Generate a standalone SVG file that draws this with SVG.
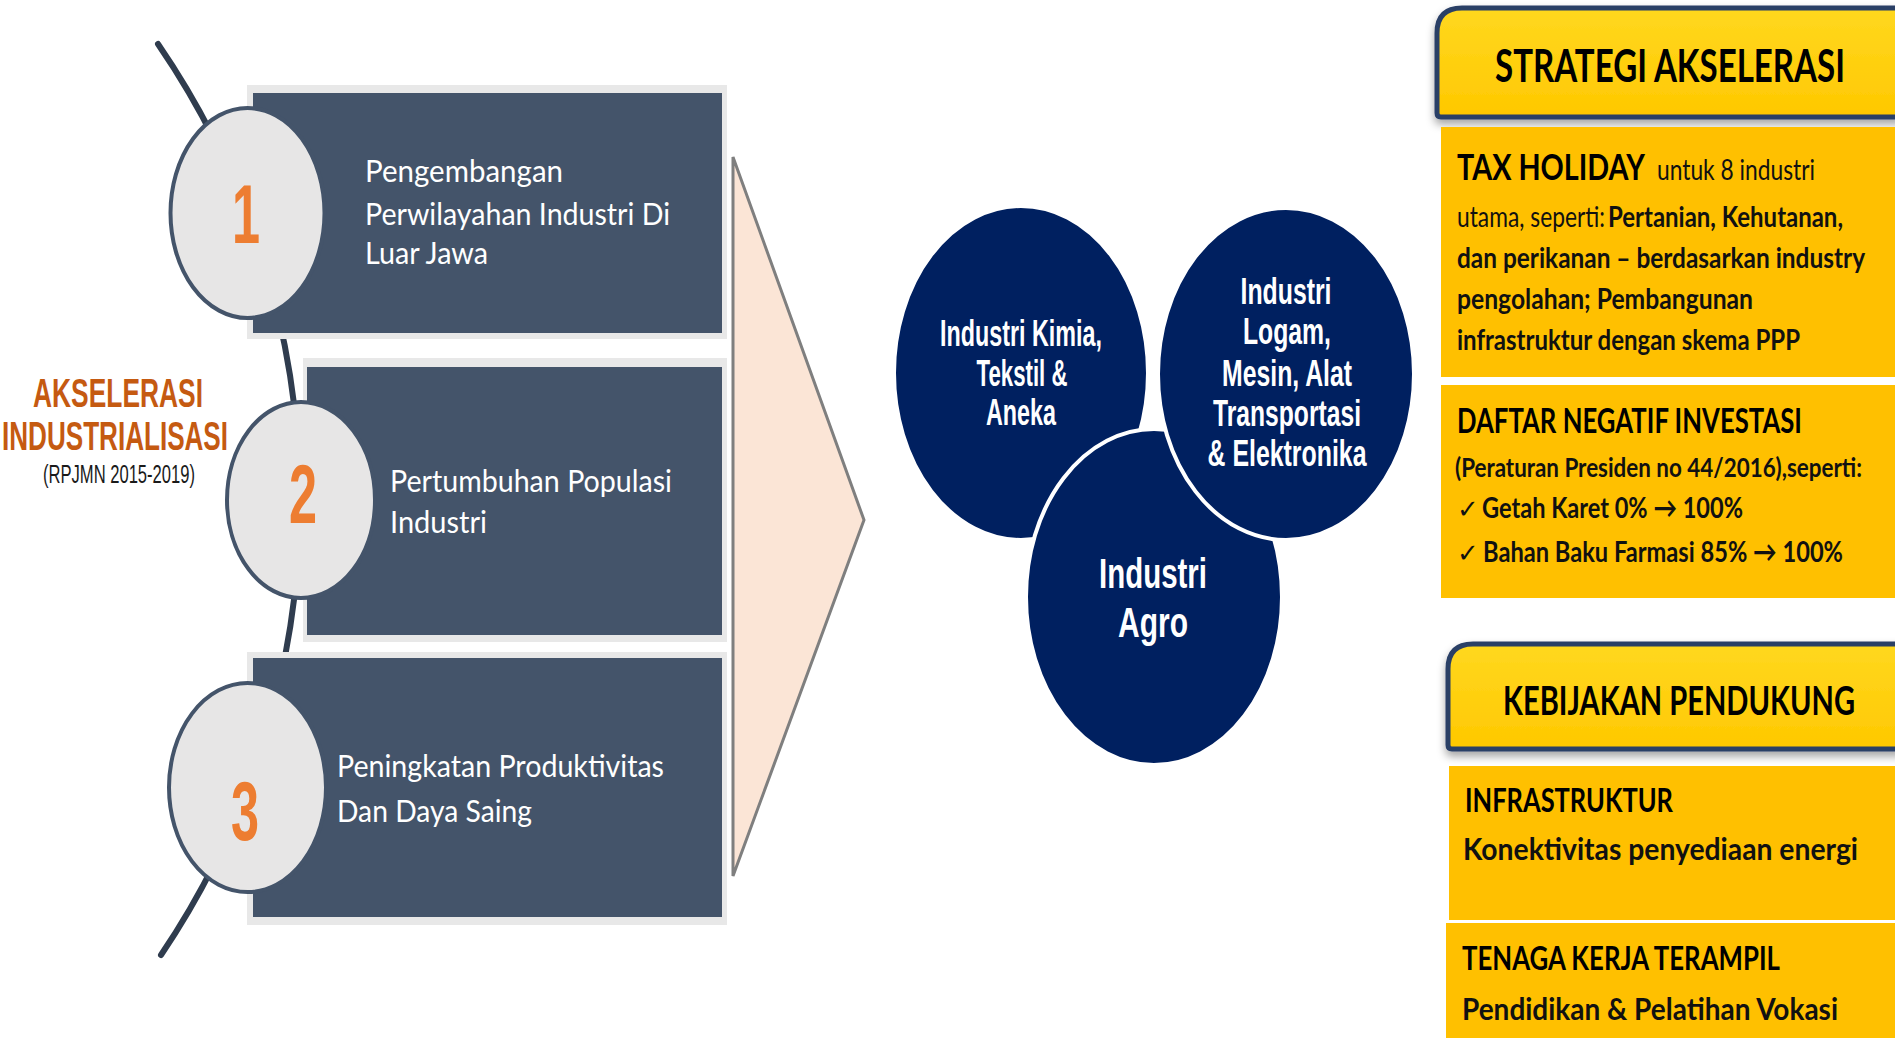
<svg xmlns="http://www.w3.org/2000/svg" width="1895" height="1038" viewBox="0 0 1895 1038">
<style>
.frame{fill:#e8e8e8}
.box{fill:#44546a}
.num{fill:#e7e6e6;stroke:#44546a;stroke-width:4}
.digit{font-family:"Liberation Sans",Arial,sans-serif;font-weight:bold;font-size:84px;fill:#ed7d31;text-anchor:middle}
.bt{font-family:Lato,"Liberation Sans",sans-serif;font-size:31px;fill:#ffffff}
.lbl{font-family:"Liberation Sans",Arial,sans-serif;font-weight:bold;font-size:40px;fill:#c55a11}
.sub{font-family:"Liberation Sans",Arial,sans-serif;font-size:26px;fill:#1a1a1a}
.ind{fill:#002060;stroke:#ffffff;stroke-width:4}
.ct{font-family:"Liberation Sans",Arial,sans-serif;font-weight:bold;font-size:36px;fill:#ffffff;text-anchor:middle}
.ctl{font-family:"Liberation Sans",Arial,sans-serif;font-weight:bold;font-size:43px;fill:#ffffff;text-anchor:middle}
.hdr{fill:url(#hg);stroke:#2b3f66;stroke-width:5;filter:url(#sh)}
.ybox{fill:#ffc000}
.h{font-family:Lato,"Liberation Sans",sans-serif;font-weight:bold;fill:#000000}
.r{font-family:Lato,"Liberation Sans","DejaVu Sans",sans-serif;fill:#111111}
.arc{fill:none;stroke:#2f3c4e;stroke-width:6;stroke-linecap:round}
</style>
<defs>
<linearGradient id="hg" x1="0" y1="0" x2="0" y2="1">
<stop offset="0" stop-color="#ffd81f"/>
<stop offset="1" stop-color="#ffc800"/>
</linearGradient>
<filter id="sh" x="-5%" y="-10%" width="110%" height="130%">
<feDropShadow dx="0" dy="5" stdDeviation="4" flood-color="#000000" flood-opacity="0.35"/>
</filter>
</defs>
<rect width="1895" height="1038" fill="#ffffff"/>

<g id="connectors">
<path class="arc" d="M158,44 A809,809 0 0 1 161,955"/>
</g>

<g id="chevron">
<polygon points="733,157 864,520 733,876" fill="#fbe5d6" stroke="#7f7f7f" stroke-width="3"/>
</g>

<g id="step1">
<rect class="frame" x="247" y="85" width="480" height="254"/>
<rect class="box" x="253" y="93" width="469" height="240"/>
<ellipse class="num" cx="247.5" cy="213" rx="77" ry="105"/>
<text class="digit" transform="translate(246,243) scale(0.6,1)" x="0" y="0">1</text>
<text class="bt" x="365" y="182" textLength="198" lengthAdjust="spacingAndGlyphs">Pengembangan</text>
<text class="bt" x="365" y="225" textLength="305" lengthAdjust="spacingAndGlyphs">Perwilayahan Industri Di</text>
<text class="bt" x="365" y="264" textLength="123" lengthAdjust="spacingAndGlyphs">Luar Jawa</text>
</g>

<g id="step2">
<rect class="frame" x="303" y="358" width="424" height="284"/>
<rect class="box" x="307" y="367" width="415" height="268"/>
<ellipse class="num" cx="301" cy="500" rx="74" ry="98"/>
<text class="digit" transform="translate(303,523) scale(0.6,1)" x="0" y="0">2</text>
<text class="bt" x="390" y="492" textLength="282" lengthAdjust="spacingAndGlyphs">Pertumbuhan Populasi</text>
<text class="bt" x="390" y="533" textLength="97" lengthAdjust="spacingAndGlyphs">Industri</text>
</g>

<g id="step3">
<rect class="frame" x="247" y="652" width="480" height="273"/>
<rect class="box" x="253" y="658" width="469" height="259"/>
<ellipse class="num" cx="247.5" cy="787.5" rx="78.5" ry="104.5"/>
<text class="digit" transform="translate(245,840) scale(0.6,1)" x="0" y="0">3</text>
<text class="bt" x="337" y="777" textLength="327" lengthAdjust="spacingAndGlyphs">Peningkatan Produktivitas</text>
<text class="bt" x="337" y="822" textLength="195" lengthAdjust="spacingAndGlyphs">Dan Daya Saing</text>
</g>

<g id="title-left">
<text class="lbl" x="33" y="407" textLength="170" lengthAdjust="spacingAndGlyphs">AKSELERASI</text>
<text class="lbl" x="2" y="450" textLength="226" lengthAdjust="spacingAndGlyphs">INDUSTRIALISASI</text>
<text class="sub" x="43" y="483" textLength="152" lengthAdjust="spacingAndGlyphs">(RPJMN 2015-2019)</text>
</g>

<g id="ind-kimia">
<ellipse class="ind" cx="1021" cy="373" rx="127" ry="167"/>
<text class="ct" x="1021" y="346" textLength="162" lengthAdjust="spacingAndGlyphs">Industri Kimia,</text>
<text class="ct" x="1022" y="386" textLength="91" lengthAdjust="spacingAndGlyphs">Tekstil &amp;</text>
<text class="ct" x="1021" y="425" textLength="70" lengthAdjust="spacingAndGlyphs">Aneka</text>
</g>

<g id="ind-agro">
<ellipse class="ind" cx="1154" cy="597" rx="128" ry="168"/>
<text class="ctl" x="1153" y="588" textLength="108" lengthAdjust="spacingAndGlyphs">Industri</text>
<text class="ctl" x="1153" y="637" textLength="70" lengthAdjust="spacingAndGlyphs">Agro</text>
</g>

<g id="ind-logam">
<ellipse class="ind" cx="1286" cy="374" rx="128" ry="166"/>
<text class="ct" x="1286" y="304" textLength="91" lengthAdjust="spacingAndGlyphs">Industri</text>
<text class="ct" x="1287" y="344" textLength="88" lengthAdjust="spacingAndGlyphs">Logam,</text>
<text class="ct" x="1287" y="386" textLength="130" lengthAdjust="spacingAndGlyphs">Mesin, Alat</text>
<text class="ct" x="1287" y="426" textLength="148" lengthAdjust="spacingAndGlyphs">Transportasi</text>
<text class="ct" x="1287" y="466" textLength="159" lengthAdjust="spacingAndGlyphs">&amp; Elektronika</text>
</g>

<g id="strategi-header">
<path class="hdr" d="M1900,8 H1462 Q1437,8 1437,33 V113 Q1437,117 1441,117 H1900 Z"/>
<text class="h" x="1495" y="82" font-size="46" textLength="350" lengthAdjust="spacingAndGlyphs">STRATEGI AKSELERASI</text>
</g>

<g id="tax-holiday">
<rect class="ybox" x="1441" y="127" width="454" height="250"/>
<text class="h" x="1457" y="180" font-size="36" textLength="188" lengthAdjust="spacingAndGlyphs">TAX HOLIDAY</text>
<text class="r" x="1657" y="180" font-size="28" textLength="158" lengthAdjust="spacingAndGlyphs">untuk 8 industri</text>
<text class="r" x="1457" y="227" font-size="28" textLength="148" lengthAdjust="spacingAndGlyphs">utama, seperti:</text>
<text class="r" x="1608" y="227" font-size="29" font-weight="bold" textLength="235" lengthAdjust="spacingAndGlyphs">Pertanian, Kehutanan,</text>
<text class="r" x="1457" y="268" font-size="29" font-weight="bold" textLength="408" lengthAdjust="spacingAndGlyphs">dan perikanan – berdasarkan industry</text>
<text class="r" x="1457" y="309" font-size="29" font-weight="bold" textLength="296" lengthAdjust="spacingAndGlyphs">pengolahan; Pembangunan</text>
<text class="r" x="1457" y="350" font-size="29" font-weight="bold" textLength="343" lengthAdjust="spacingAndGlyphs">infrastruktur dengan skema PPP</text>
</g>

<g id="daftar-negatif">
<rect class="ybox" x="1441" y="385" width="454" height="213"/>
<text class="h" x="1457" y="433" font-size="34" textLength="345" lengthAdjust="spacingAndGlyphs">DAFTAR NEGATIF INVESTASI</text>
<text class="r" x="1455" y="477" font-size="26" font-weight="bold" textLength="407" lengthAdjust="spacingAndGlyphs">(Peraturan Presiden no 44/2016),seperti:</text>
<text class="r" x="1457" y="518" font-size="26">✓</text>
<text class="r" x="1482" y="518" font-size="29" font-weight="bold" textLength="261" lengthAdjust="spacingAndGlyphs">Getah Karet 0% → 100%</text>
<text class="r" x="1457" y="562" font-size="26">✓</text>
<text class="r" x="1483" y="562" font-size="29" font-weight="bold" textLength="360" lengthAdjust="spacingAndGlyphs">Bahan Baku Farmasi 85% → 100%</text>
</g>

<g id="kebijakan-header">
<path class="hdr" d="M1900,644 H1473 Q1448,644 1448,669 V745 Q1448,749 1452,749 H1900 Z"/>
<text class="h" x="1503" y="715" font-size="40" textLength="352" lengthAdjust="spacingAndGlyphs">KEBIJAKAN PENDUKUNG</text>
</g>

<g id="infrastruktur">
<rect class="ybox" x="1449" y="766" width="446" height="154"/>
<text class="h" x="1465" y="812" font-size="32" textLength="208" lengthAdjust="spacingAndGlyphs">INFRASTRUKTUR</text>
<text class="r" x="1463" y="860" font-size="31" font-weight="bold" textLength="395" lengthAdjust="spacingAndGlyphs">Konektivitas penyediaan energi</text>
</g>

<g id="tenaga-kerja">
<rect class="ybox" x="1446" y="923" width="449" height="115"/>
<text class="h" x="1462" y="970" font-size="32" textLength="318" lengthAdjust="spacingAndGlyphs">TENAGA KERJA TERAMPIL</text>
<text class="r" x="1462" y="1020" font-size="31" font-weight="bold" textLength="376" lengthAdjust="spacingAndGlyphs">Pendidikan &amp; Pelatihan Vokasi</text>
</g>
</svg>
